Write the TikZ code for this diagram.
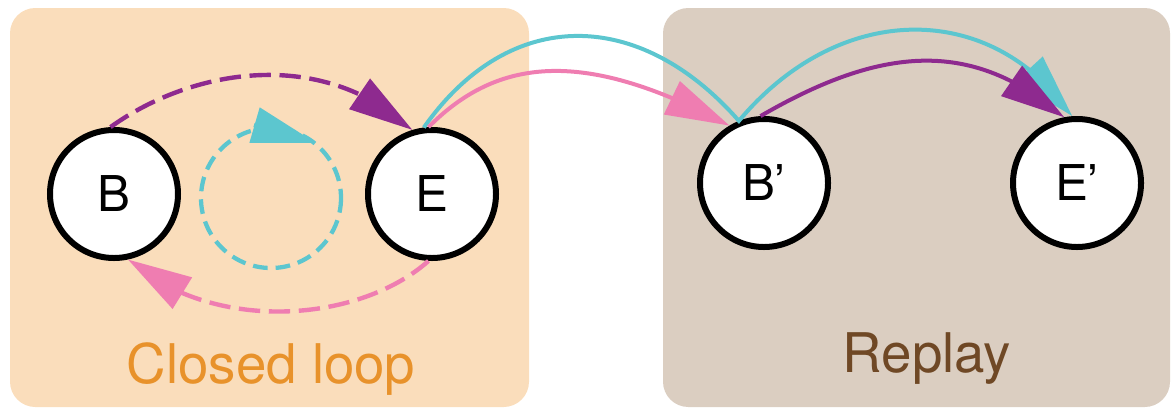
\documentclass[tikz,border=0pt]{standalone}
\usepackage{fontspec}
\setmainfont{TeX Gyre Heros}
\usetikzlibrary{arrows.meta,bending}
\definecolor{orfill}{HTML}{FADDBB}
\definecolor{brfill}{HTML}{DBCEC1}
\definecolor{cyanc}{HTML}{5CC6CF}
\definecolor{purc}{HTML}{8E2A8F}
\definecolor{pinkc}{HTML}{EF7DB1}
\definecolor{ortext}{HTML}{E8922B}
\definecolor{brtext}{HTML}{6F4825}
\tikzset{
  panel/.style={rounded corners=19pt},
  state/.style={circle,draw=black,fill=white,line width=4.5pt,minimum size=96pt,inner sep=0pt,
    font=\fontsize{37}{44}\selectfont},
  plabel/.style={font=\fontsize{41}{48}\selectfont,anchor=base},
  dashlink/.style={line width=3.3pt,dash pattern=on 16pt off 6.5pt},
  solidlink/.style={line width=3pt},
  head/.style={-{Triangle[length=48pt,width=27pt,flex]}}
}
\begin{document}
\begin{tikzpicture}[x=0.75pt,y=-0.75pt]
\useasboundingbox (0,0) rectangle (1173,408);
% panels
\fill[orfill,panel] (10,8) rectangle (529,407);
\fill[brfill,panel] (663,8) rectangle (1170,407);
\node[plabel,text=ortext] (cl) at (271,383) {Closed loop};
\node[plabel,text=brtext] (rp) at (927,372) {Replay};
% states
\node[state] (B) at (114,194) {B};
\node[state] (E) at (432,194) {E};
\node[state] (Bp) at (764,183) {B’};
\node[state] (Ep) at (1077,183) {E’};
% closed loop connectors
\draw[purc,dashlink,head] (B.93) .. controls (190,70) and (320,45) .. (E.107);
\draw[pinkc,dashlink,head] (E.267) .. controls (360,322) and (215,335) .. (B.282);
\draw[cyanc,line width=3.2pt,dash pattern=on 11pt off 6pt] (271,198) circle[radius=70];
\coordinate (cyb) at (254,125);
\coordinate (cyt) at (316,143);
\draw[cyanc,line width=3pt,head] (cyb) -- (cyt);
% replay connectors
\draw[cyanc,solidlink,head] (E.97) .. controls (510,5) and (640,8) .. (Bp.112)
   .. controls (840,0) and (992,0) .. (Ep.94);
\draw[pinkc,solidlink,head] (E.93) .. controls (500,55) and (588,50) .. (Bp.121);
\draw[purc,solidlink,head] (Bp.93) .. controls (888,42) and (976,42) .. (Ep.101);
\end{tikzpicture}
\end{document}
